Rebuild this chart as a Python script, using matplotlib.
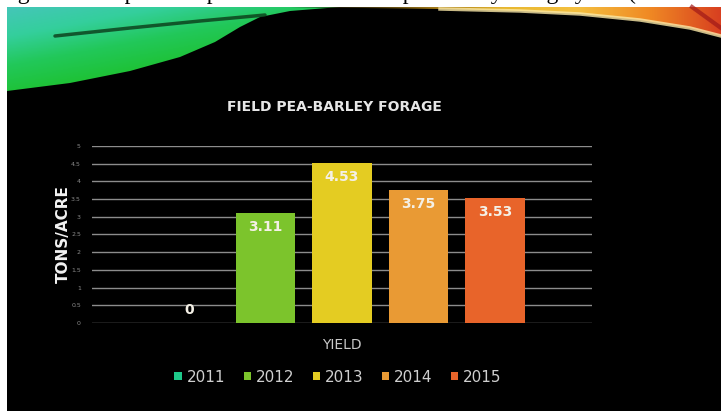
import matplotlib
matplotlib.use("Agg")
import matplotlib.pyplot as plt
import numpy as np
from matplotlib.patches import Polygon, Rectangle
from matplotlib.colors import LinearSegmentedColormap

# data
years = ['2011', '2012', '2013', '2014', '2015']
yields = [0, 3.11, 4.53, 3.75, 3.53]
colors = ['#1ec98a', '#7cc42c', '#e4cc22', '#e99a34', '#e8642a']
yticks = [0, 0.5, 1, 1.5, 2, 2.5, 3, 3.5, 4, 4.5, 5]

W, H = 721, 411
fig = plt.figure(figsize=(W / 100, H / 100), dpi=100)
fig.patch.set_facecolor('white')

# slide background (pixel coordinates)
bg = fig.add_axes([0, 0, 1, 1], zorder=-10)
bg.axis('off')
bg.add_patch(Rectangle((7, 7), W - 7, H - 7, color='black', lw=0, zorder=0))

# green swoosh, top left: teal in the corner, green lower and to the right
green_cmap = LinearSegmentedColormap.from_list(
    'g', ['#44c6b8', '#34cf9c', '#22c85a', '#1ec236', '#16a82a'])
gx, gy = np.meshgrid(np.linspace(0, 1, 200), np.linspace(0, 1, 60))
grad_g = np.clip(0.55 * gx + 0.75 * gy, 0, 1)
im = bg.imshow(grad_g, cmap=green_cmap, extent=(7, 345, 95, 7), aspect='auto',
               zorder=2)
green_shape = Polygon([(7, 7), (340, 7), (290, 11), (260, 17), (240, 27),
                       (215, 42), (180, 57), (130, 71), (70, 83), (7, 91)],
                      closed=True, facecolor='none', edgecolor='none')
bg.add_patch(green_shape)
im.set_clip_path(green_shape)
bg.plot([55, 130, 200, 265], [36, 28, 21, 15], color='#0b3a18', lw=2.5,
        alpha=0.8, solid_capstyle='round', zorder=4)

# yellow / orange swoosh, top right
warm_cmap = LinearSegmentedColormap.from_list(
    'w', ['#1a1a08', '#3a3010', '#a07818', '#e8b830', '#f4c040',
          '#f08a24', '#d84020'])
grad_w = np.linspace(0, 1, 256).reshape(1, -1)
im2 = bg.imshow(grad_w, cmap=warm_cmap, extent=(290, W, 40, 7), aspect='auto',
                zorder=2)
warm_shape = Polygon([(290, 7), (W, 7), (W, 36), (690, 28), (640, 20),
                      (580, 14), (520, 11), (440, 9), (360, 8)], closed=True,
                     facecolor='none', edgecolor='none')
bg.add_patch(warm_shape)
im2.set_clip_path(warm_shape)
bg.plot([440, 520, 580, 640, 690, W], [9, 11, 14, 20, 28, 36],
        color='#fbe9a8', lw=2.5, alpha=0.8, zorder=4)
bg.plot([692, W], [7, 28], color='#a01818', lw=3, alpha=0.7, zorder=4)

bg.set_xlim(0, W)
bg.set_ylim(H, 0)

# caption cut off by the top edge
fig.text(-2 / W, 1 + 1 / H, 'Figure 3. Graphical representation of field '
         'pea-barley forage yield (tons/acre)', family='Liberation Serif',
         fontsize=17, color='black', va='baseline', ha='left')

# chart
ax = fig.add_axes([92 / W, (H - 323) / H, 500 / W, 177 / H])
ax.set_facecolor('none')
x = np.arange(len(years))
bars = ax.bar(x, yields, width=0.784, color=colors, zorder=3)
for xi, v in zip(x, yields):
    off = 13 if v == 0 else -14
    ax.annotate(f'{v:g}', (xi, v), xytext=(0, off), textcoords='offset pixels',
                ha='center', va='center', color='#f4f0e6', fontsize=10,
                fontweight='bold', zorder=4)

ax.set_xlim(-1.268, 5.268)
ax.set_ylim(0, 5)
ax.set_yticks(yticks)
ax.set_yticklabels([f'{t:g}' for t in yticks], fontsize=4.5, color='#8a8a8a')
ax.set_xticks([])
ax.tick_params(axis='y', length=0, pad=8)
ax.grid(axis='y', color='#8c8c8c', lw=1, zorder=0)
for s in ax.spines.values():
    s.set_visible(False)

fig.text(63 / W, 1 - 234 / H, 'TONS/ACRE', rotation=90, ha='center',
         va='center', fontsize=11, fontweight='bold', color='#f2f2f2')
fig.text(334 / W, 1 - 107 / H, 'FIELD PEA-BARLEY FORAGE', ha='center',
         va='center', fontsize=10, fontweight='bold', color='#e6e6e6')
fig.text(342 / W, 1 - 345 / H, 'YIELD', ha='center', va='center',
         fontsize=10, color='#c8c8c8')

leg = fig.legend(bars, years, loc='center', bbox_to_anchor=(338 / W, 1 - 377 / H),
                 ncol=5, frameon=False, fontsize=11, handlelength=0.5,
                 handleheight=0.5, handletextpad=0.3, columnspacing=1.2)
for t in leg.get_texts():
    t.set_color('#cfcfcf')

fig.savefig('out.png', dpi=100, facecolor='white')
